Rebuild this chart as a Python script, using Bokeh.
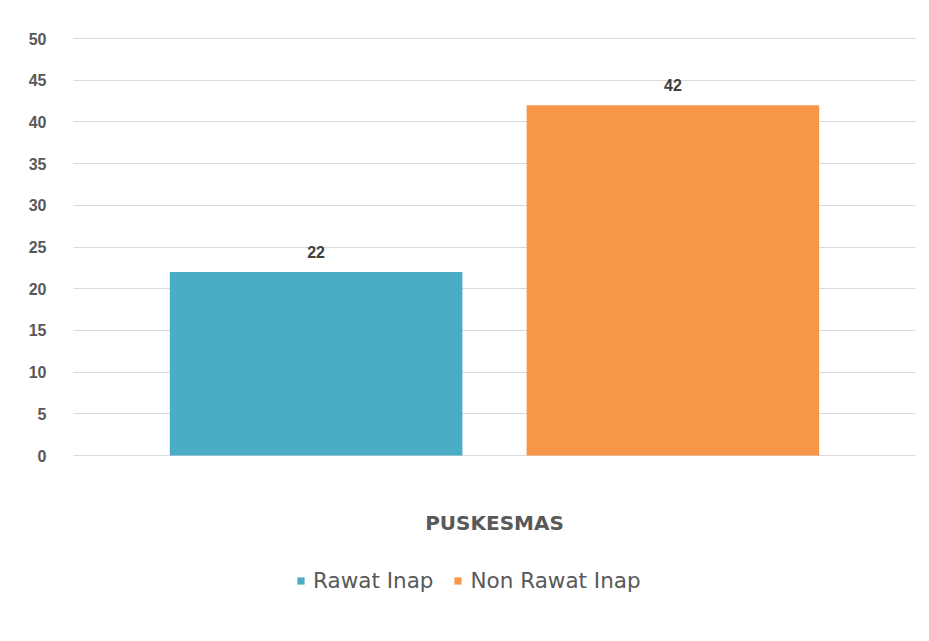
from bokeh.plotting import figure
from bokeh.models import (ColumnDataSource, LabelSet, Legend, LegendItem, FixedTicker,
                          FactorRange, Range1d, Label)
from bokeh.core.properties import value
from bokeh.embed import file_html
from bokeh.resources import INLINE

categories = ["Rawat Inap", "Non Rawat Inap"]
values = [22, 42]
colors = ["#4BACC6", "#F79646"]
y_ticks = [0, 5, 10, 15, 20, 25, 30, 35, 40, 45, 50]
axis_title = "PUSKESMAS"

src = ColumnDataSource(dict(x=categories, y=values, c=colors, lbl=[str(v) for v in values]))

# 8.34 px per unit; frame extends below the zero line to hold title and legend
y_max = 50.24
y_min = -21.70

p = figure(width=925, height=636, output_backend="svg", toolbar_location=None,
           x_range=FactorRange(factors=categories, range_padding=0.18),
           y_range=Range1d(y_min, y_max), x_axis_location=None,
           min_border_left=73, min_border_right=10, min_border_top=36, min_border_bottom=0)
p.outline_line_color = None

r = p.vbar(x="x", top="y", bottom=0, width=0.82, fill_color="c", line_color=None, source=src)

labels = LabelSet(x="x", y="y", text="lbl", source=src, text_align="center",
                  text_baseline="alphabetic", y_offset=14,
                  text_font=value("Liberation Sans"), text_font_style="bold",
                  text_font_size="16px", text_color="#404040")
p.add_layout(labels)

p.yaxis.ticker = FixedTicker(ticks=y_ticks)
p.yaxis.axis_line_color = None
p.yaxis.major_tick_line_color = None
p.yaxis.minor_tick_line_color = None
p.yaxis.major_label_standoff = 21
p.yaxis.major_label_text_font = "Liberation Sans"
p.yaxis.major_label_text_font_style = "bold"
p.yaxis.major_label_text_font_size = "16px"
p.yaxis.major_label_text_color = "#595959"

p.ygrid.grid_line_color = "#d9d9d9"
p.ygrid.grid_line_width = 1
p.xgrid.grid_line_color = None

title = Label(x=1.0, y=-8.15, text=axis_title, text_align="center", text_baseline="middle",
              text_font="DejaVu Sans", text_font_style="bold",
              text_font_size="20px", text_color="#595959")
p.add_layout(title)

items = []
for i, cat in enumerate(categories):
    items.append(LegendItem(label=cat, renderers=[r], index=i))
legend = Legend(items=items, orientation="horizontal", location=(223, 43),
                glyph_width=9, glyph_height=9, label_standoff=8, spacing=20,
                label_text_font="DejaVu Sans", label_text_font_size="21.5px",
                label_text_color="#595959", border_line_color=None,
                background_fill_alpha=0, margin=0, padding=5)
p.add_layout(legend)

open("out.html", "w").write(file_html(p, INLINE))
